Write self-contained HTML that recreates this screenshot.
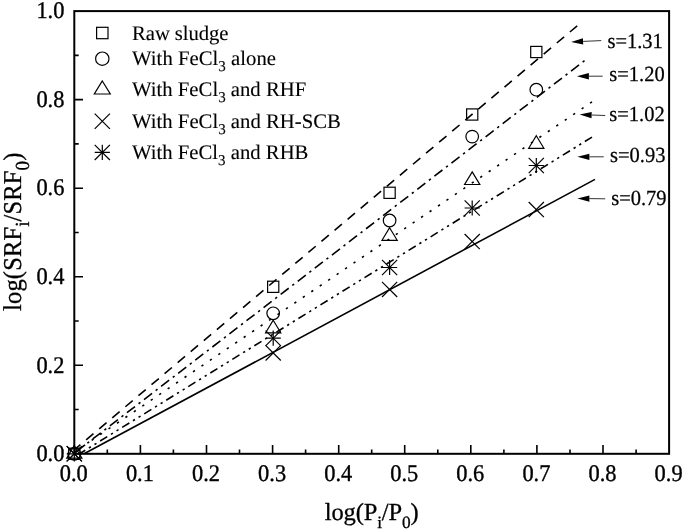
<!DOCTYPE html><html><head><meta charset="utf-8"><title>Chart</title><style>
html,body{margin:0;padding:0;background:#fff;}svg{display:block;will-change:transform;transform:translateZ(0);}
text{font-family:"Liberation Serif",serif;fill:#000;stroke:#000;stroke-width:0.35px;text-rendering:geometricPrecision;}
.tk{font-size:22.4px;stroke-width:.35px}.lg{font-size:20.7px;stroke-width:.12px}.an{font-size:20.5px;stroke-width:.25px}.ax{font-size:24.5px;stroke-width:.3px}
.m{fill:none;stroke:#000;stroke-width:1.2;}
.ln{fill:none;stroke:#000;stroke-width:1.6;}
</style></head><body>
<svg width="685" height="531" viewBox="0 0 685 531">
<rect width="685" height="531" fill="#fff"/>
<rect x="74.3" y="11.1" width="594.8" height="442.7" fill="none" stroke="#000" stroke-width="2"/>
<path d="M107.3 453.8V449.4M140.4 453.8V445.1M173.4 453.8V449.4M206.5 453.8V445.1M239.5 453.8V449.4M272.6 453.8V445.1M305.6 453.8V449.4M338.7 453.8V445.1M371.7 453.8V449.4M404.7 453.8V445.1M437.8 453.8V449.4M470.8 453.8V445.1M503.9 453.8V449.4M536.9 453.8V445.1M570.0 453.8V449.4M603.0 453.8V445.1M636.1 453.8V449.4M74.3 409.5H78.7M74.3 365.3H83.0M74.3 321.0H78.7M74.3 276.7H83.0M74.3 232.5H78.7M74.3 188.2H83.0M74.3 143.9H78.7M74.3 99.6H83.0M74.3 55.4H78.7" stroke="#000" stroke-width="1.6" fill="none"/>
<text class="tk" transform="translate(73.8,481.3) scale(1,1.07)" text-anchor="middle">0.0</text>
<text class="tk" transform="translate(139.9,481.3) scale(1,1.07)" text-anchor="middle">0.1</text>
<text class="tk" transform="translate(206.0,481.3) scale(1,1.07)" text-anchor="middle">0.2</text>
<text class="tk" transform="translate(272.1,481.3) scale(1,1.07)" text-anchor="middle">0.3</text>
<text class="tk" transform="translate(338.2,481.3) scale(1,1.07)" text-anchor="middle">0.4</text>
<text class="tk" transform="translate(404.2,481.3) scale(1,1.07)" text-anchor="middle">0.5</text>
<text class="tk" transform="translate(470.3,481.3) scale(1,1.07)" text-anchor="middle">0.6</text>
<text class="tk" transform="translate(536.4,481.3) scale(1,1.07)" text-anchor="middle">0.7</text>
<text class="tk" transform="translate(602.5,481.3) scale(1,1.07)" text-anchor="middle">0.8</text>
<text class="tk" transform="translate(668.6,481.3) scale(1,1.07)" text-anchor="middle">0.9</text>
<text class="tk" transform="translate(64.4,461.0) scale(1,1.07)" text-anchor="end">0.0</text>
<text class="tk" transform="translate(64.4,372.5) scale(1,1.07)" text-anchor="end">0.2</text>
<text class="tk" transform="translate(64.4,283.9) scale(1,1.07)" text-anchor="end">0.4</text>
<text class="tk" transform="translate(64.4,195.4) scale(1,1.07)" text-anchor="end">0.6</text>
<text class="tk" transform="translate(64.4,106.8) scale(1,1.07)" text-anchor="end">0.8</text>
<text class="tk" transform="translate(64.4,18.3) scale(1,1.07)" text-anchor="end">1.0</text>
<path class="ln" d="M577.2 25.8L74.3 449.8" stroke-dasharray="9.6 7.5"/>
<path class="ln" d="M584.5 60.7L74.3 453.2" stroke-dasharray="2.3 4.55 10.15 4.55"/>
<path class="ln" d="M592 101.9L74.3 452.1" stroke-dasharray="2.3 7.9"/>
<path class="ln" d="M592 137.1L79.5 453.8" stroke-dasharray="8.4 4.3 2.3 4.3 2.3 4.3"/>
<path class="ln" d="M595 179.4L84.1 453.8"/>
<rect class="m" x="68.7" y="448.2" width="11.2" height="11.2"/>
<rect class="m" x="267.6" y="281.2" width="11.2" height="11.2"/>
<rect class="m" x="384.0" y="187.2" width="11.2" height="11.2"/>
<rect class="m" x="466.6" y="108.9" width="11.2" height="11.2"/>
<rect class="m" x="530.7" y="46.4" width="11.2" height="11.2"/>
<circle class="m" cx="74.3" cy="453.8" r="6.3"/>
<circle class="m" cx="273.2" cy="313.3" r="6.3"/>
<circle class="m" cx="389.6" cy="220.5" r="6.3"/>
<circle class="m" cx="472.2" cy="136.6" r="6.3"/>
<circle class="m" cx="536.3" cy="89.7" r="6.3"/>
<path class="m" d="M74.3 445.5L81.9 458.1H66.7Z"/>
<path class="m" d="M273.2 320.2L280.8 332.8H265.6Z"/>
<path class="m" d="M389.6 227.7L397.2 240.3H382.0Z"/>
<path class="m" d="M472.2 171.9L479.8 184.5H464.6Z"/>
<path class="m" d="M536.3 135.7L543.9 148.3H528.7Z"/>
<path class="m" d="M66.7 446.2L81.9 461.4M66.7 461.4L81.9 446.2"/><path class="m" d="M66.7 453.8H81.9M74.3 446.2V461.4"/>
<path class="m" d="M265.6 330.6L280.8 345.8M265.6 345.8L280.8 330.6"/><path class="m" d="M265.6 338.2H280.8M273.2 330.6V345.8"/>
<path class="m" d="M382.0 259.9L397.2 275.1M382.0 275.1L397.2 259.9"/><path class="m" d="M382.0 267.5H397.2M389.6 259.9V275.1"/>
<path class="m" d="M464.6 200.4L479.8 215.6M464.6 215.6L479.8 200.4"/><path class="m" d="M464.6 208.0H479.8M472.2 200.4V215.6"/>
<path class="m" d="M528.7 157.9L543.9 173.1M528.7 173.1L543.9 157.9"/><path class="m" d="M528.7 165.5H543.9M536.3 157.9V173.1"/>
<path class="m" d="M66.7 446.2L81.9 461.4M66.7 461.4L81.9 446.2"/>
<path class="m" d="M265.6 345.3L280.8 360.5M265.6 360.5L280.8 345.3"/>
<path class="m" d="M382.0 281.8L397.2 297.0M382.0 297.0L397.2 281.8"/>
<path class="m" d="M464.6 234.0L479.8 249.2M464.6 249.2L479.8 234.0"/>
<path class="m" d="M528.7 202.0L543.9 217.2M528.7 217.2L543.9 202.0"/>
<rect class="m" x="96.6" y="27.3" width="11.4" height="11.4"/>
<circle class="m" cx="102.3" cy="58.7" r="6.7"/>
<path class="m" d="M102.3 81.0L110.3 94.0H94.3Z"/>
<path class="m" d="M94.7 113.7L109.9 128.9M94.7 128.9L109.9 113.7"/>
<path class="m" d="M94.7 144.8L109.9 160.0M94.7 160.0L109.9 144.8"/><path class="m" d="M94.7 152.4H109.9M102.3 144.8V160.0"/>
<text class="lg" transform="translate(132.1,39.9) scale(1,1.0)" textLength="96.3" lengthAdjust="spacing">Raw sludge</text>
<text class="lg" transform="translate(132.1,65.3) scale(1,1.0)" textLength="143.9" lengthAdjust="spacing">With FeCl<tspan font-size="15" dy="6">3</tspan><tspan dy="-6"> alone</tspan></text>
<text class="lg" transform="translate(132.1,96.2) scale(1,1.0)" textLength="174.1" lengthAdjust="spacing">With FeCl<tspan font-size="15" dy="6">3</tspan><tspan dy="-6"> and RHF</tspan></text>
<text class="lg" transform="translate(132.1,128.1) scale(1,1.0)" textLength="208.7" lengthAdjust="spacing">With FeCl<tspan font-size="15" dy="6">3</tspan><tspan dy="-6"> and RH-SCB</tspan></text>
<text class="lg" transform="translate(132.1,159.1) scale(1,1.0)" textLength="176.3" lengthAdjust="spacing">With FeCl<tspan font-size="15" dy="6">3</tspan><tspan dy="-6"> and RHB</tspan></text>
<text class="an" transform="translate(607.4,48.2) scale(1,1.05)">s=1.31</text>
<path d="M601.3 40.6L583.1 41.4" stroke="#000" stroke-width="0.8" fill="none"/>
<path d="M571.1 42.0L583.2 44.6L582.9 38.3Z" fill="#000"/>
<text class="an" transform="translate(609.3,81.0) scale(1,1.05)">s=1.20</text>
<path d="M602.7 76.2L588.9 76.2" stroke="#000" stroke-width="0.8" fill="none"/>
<path d="M576.9 76.2L588.9 79.4L588.9 73.0Z" fill="#000"/>
<text class="an" transform="translate(609.3,120.9) scale(1,1.05)">s=1.02</text>
<path d="M605.2 115.5L591.6 115.0" stroke="#000" stroke-width="0.8" fill="none"/>
<path d="M579.6 114.6L591.5 118.2L591.7 111.9Z" fill="#000"/>
<text class="an" transform="translate(610.0,162.4) scale(1,1.05)">s=0.93</text>
<path d="M603.7 156.8L589.4 156.8" stroke="#000" stroke-width="0.8" fill="none"/>
<path d="M577.4 156.8L589.4 160.0L589.4 153.7Z" fill="#000"/>
<text class="an" transform="translate(611.2,204.6) scale(1,1.05)">s=0.79</text>
<path d="M605.2 198.8L589.4 198.6" stroke="#000" stroke-width="0.8" fill="none"/>
<path d="M577.4 198.4L589.4 201.7L589.4 195.4Z" fill="#000"/>
<text class="ax" transform="translate(324.8,520.1) scale(1,1.0)" textLength="93.8" lengthAdjust="spacing">log(P<tspan font-size="17.3" dy="8">i</tspan><tspan dy="-8">/P</tspan><tspan font-size="17.3" dy="8">0</tspan><tspan dy="-8">)</tspan></text>
<text class="ax" transform="translate(20.8,310.9) rotate(-90) scale(1,1.05)" textLength="158.3" lengthAdjust="spacing">log(SRF<tspan font-size="19" dy="7.4">i</tspan><tspan dy="-7.4">/SRF</tspan><tspan font-size="19" dy="7.4">0</tspan><tspan dy="-7.4">)</tspan></text>
</svg></body></html>
